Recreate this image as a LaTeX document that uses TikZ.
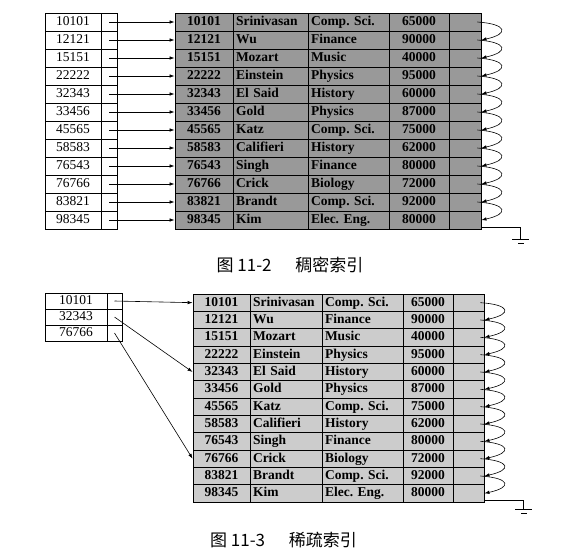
\documentclass[tikz,border=0pt]{standalone}
\usepackage{fontspec}
\setmainfont{Liberation Serif}
\newfontfamily\cjk{Noto Sans CJK SC}
\usetikzlibrary{arrows.meta,calc}
\frenchspacing

\definecolor{densegray}{gray}{0.60}
\definecolor{sparsegray}{gray}{0.80}

% instructor records: ID/name/dept/salary
\def\instructor{10101/Srinivasan/Comp. Sci./65000, 12121/Wu/Finance/90000,
  15151/Mozart/Music/40000, 22222/Einstein/Physics/95000,
  32343/El Said/History/60000, 33456/Gold/Physics/87000,
  45565/Katz/Comp. Sci./75000, 58583/Califieri/History/62000,
  76543/Singh/Finance/80000, 76766/Crick/Biology/72000,
  83821/Brandt/Comp. Sci./92000, 98345/Kim/Elec. Eng./80000}

\begin{document}
\begin{tikzpicture}[x=1pt,y=-1pt,
  cell/.style={draw,line width=0.6pt,inner ysep=0pt,inner xsep=3pt,minimum height=18pt,
    text height=9.5pt,text depth=2.5pt},
  num/.style={cell,text width=#1,align=center},
  txt/.style={cell,text width=#1,align=left},
  key/.style={font=\fontsize{13.5}{13.5}\selectfont},
  rec/.style={line width=0.9pt,fill=#1,font=\bfseries\fontsize{13.5}{13.5}\selectfont},
  ptr/.style={-{Latex[length=5pt,width=3.5pt]},line width=0.6pt},
  chain/.style={-{Latex[length=5pt,width=3.5pt]},line width=0.6pt},
  caption/.style={font=\cjk\fontsize{17}{17}\selectfont}]
\useasboundingbox (0,0) rectangle (562,555);

% dense index
\foreach \id/\nm/\dept/\sal [count=\i] in \instructor {
  \node[num=50pt,key] (dk\i) at (73,{4+18*\i}) {\id};
  \node[num=10pt] (dp\i) at (109,{4+18*\i}) {};
  \node[num=52pt,rec=densegray] (di\i) at (204,{4+18*\i}) {\id};
  \node[txt=69pt,rec=densegray] (dn\i) at (270.5,{4+18*\i}) {\nm};
  \node[txt=75pt,rec=densegray] (dd\i) at (348.5,{4+18*\i}) {\dept};
  \node[num=54pt,rec=densegray] (ds\i) at (419,{4+18*\i}) {\sal};
  \node[num=26pt,rec=densegray] (dq\i) at (465,{4+18*\i}) {};
  \draw[ptr] (dp\i.center) -- (di\i.west);
}
\foreach \i [evaluate=\i as \j using int(\i+1)] in {1,...,11}
  \draw[chain] ([xshift=-4pt]dq\i.east) .. controls +(30,2) and +(28,-6) .. (dq\j.east);
\draw[line width=0.6pt] ([yshift=2pt]dq12.south east) -- ++(39,0) coordinate (dg) -- ++(0,12);
\draw[line width=0.6pt] ($(dg)+(-8,12)$) -- ++(17,0);
\draw[line width=0.6pt] ($(dg)+(-2,16)$) -- ++(6,0);
\node[caption] (cap2) at (290,265) {图 11-2\hspace{1.4em}稠密索引};

% sparse index
\foreach \id/\nm/\dept/\sal [count=\i] in \instructor {
  \node[num=51pt,rec=sparsegray,minimum height=17.33pt] (si\i) at (221.5,{285.33+17.333*\i}) {\id};
  \node[txt=66pt,rec=sparsegray,minimum height=17.33pt] (sn\i) at (286,{285.33+17.333*\i}) {\nm};
  \node[txt=75pt,rec=sparsegray,minimum height=17.33pt] (sd\i) at (362.5,{285.33+17.333*\i}) {\dept};
  \node[num=44pt,rec=sparsegray,minimum height=17.33pt] (ss\i) at (428,{285.33+17.333*\i}) {\sal};
  \node[num=25pt,rec=sparsegray,minimum height=17.33pt] (sq\i) at (468.5,{285.33+17.333*\i}) {};
}
\foreach \k/\r [count=\i] in {10101/1,32343/5,76766/10} {
  \node[num=56pt,key,minimum height=16pt] (sk\i) at (76,{285+16*\i}) {\k};
  \node[num=9pt,minimum height=16pt] (sp\i) at (114.5,{285+16*\i}) {};
  \draw[ptr] (sp\i.center) -- (si\r.west);
}
\foreach \i [evaluate=\i as \j using int(\i+1)] in {1,...,11}
  \draw[chain] ([xshift=-4pt]sq\i.east) .. controls +(30,2) and +(28,-6) .. (sq\j.east);
\draw[line width=0.6pt] ([yshift=2pt]sq12.south east) -- ++(39,0) coordinate (sg) -- ++(0,9);
\draw[line width=0.6pt] ($(sg)+(-8,9)$) -- ++(17,0);
\draw[line width=0.6pt] ($(sg)+(-2,13)$) -- ++(6,0);
\node[caption] (cap3) at (283.5,540) {图 11-3\hspace{1.4em}稀疏索引};
\end{tikzpicture}
\end{document}
